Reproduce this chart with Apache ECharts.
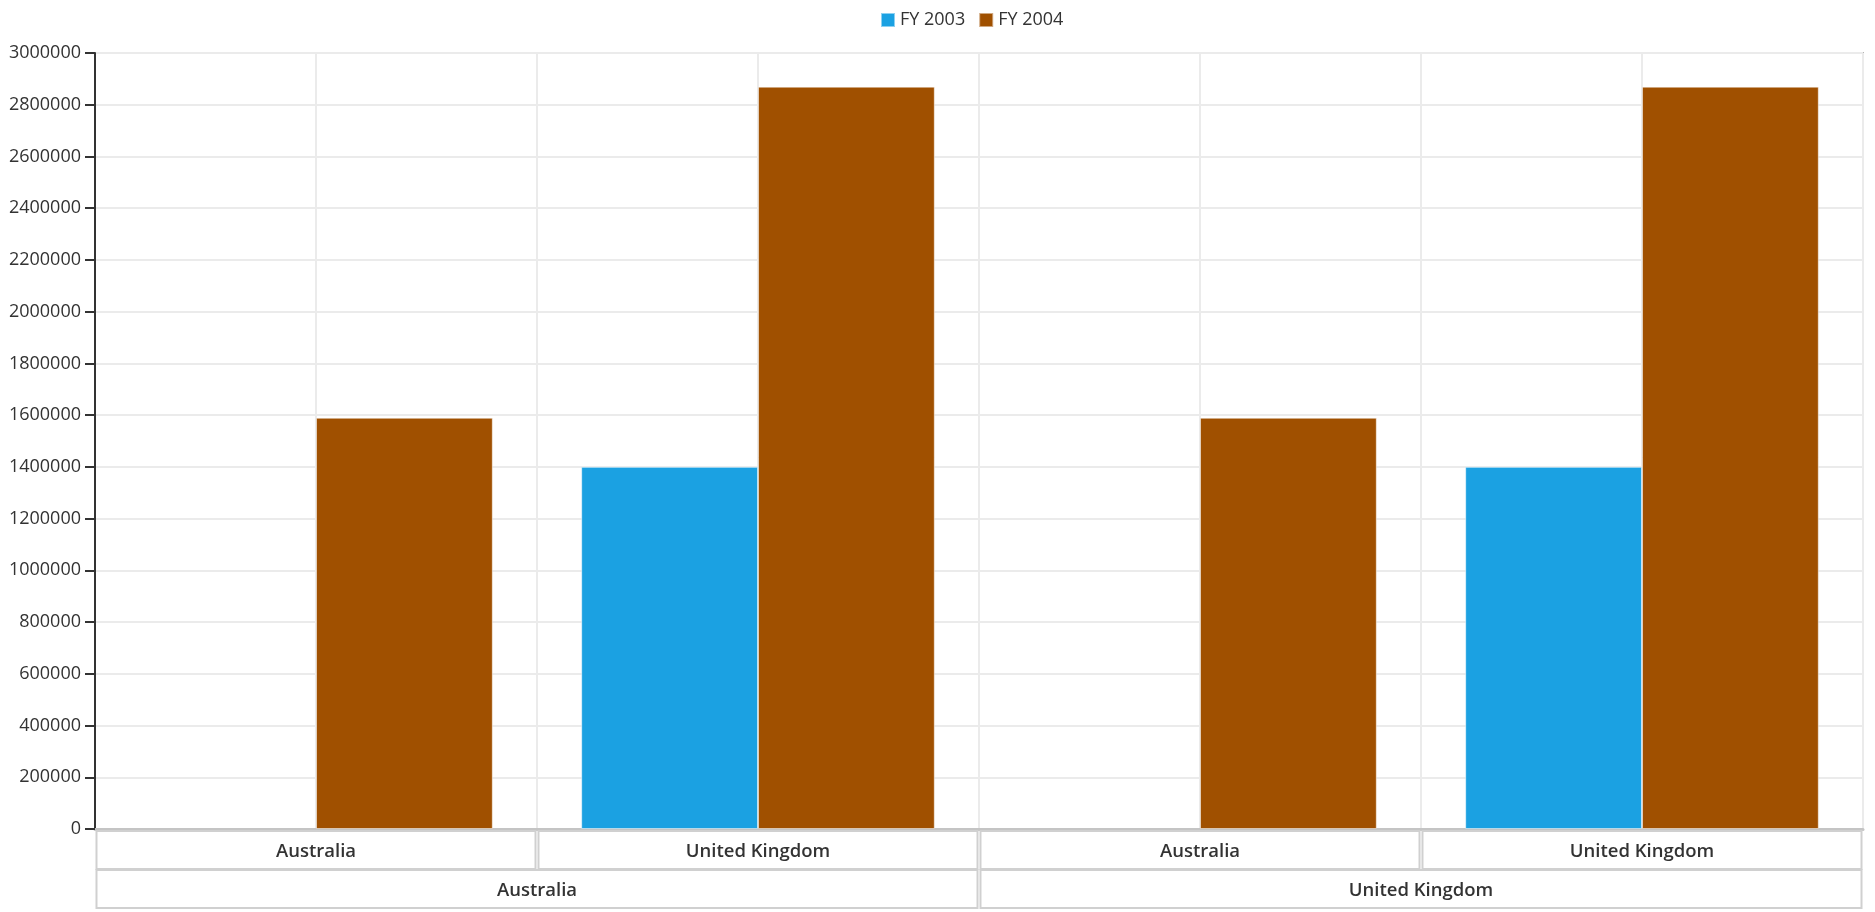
<!DOCTYPE html>
<html>
<head>
<meta charset="utf-8">
<script src="https://cdn.jsdelivr.net/npm/echarts@6/dist/echarts.min.js"></script>
<style>
html,body{margin:0;padding:0;background:#fff;}
#chart{width:1875px;height:912px;}
</style>
</head>
<body>
<div id="chart"></div>
<script>
// ---- data ----
const innerCategories = ['Australia', 'United Kingdom', 'Australia', 'United Kingdom'];
const outerCategories = ['Australia', 'United Kingdom'];
const seriesNames = ['FY 2003', 'FY 2004'];
const fy2003 = [null, 1400000, null, 1400000];
const fy2004 = [1590000, 2870000, 1590000, 2870000];
const yTicks = { min: 0, max: 3000000, interval: 200000 };

// ---- chart ----
const FONT = '"Open Sans", "Noto Sans", sans-serif';
const chart = echarts.init(document.getElementById('chart'));
const halfCats = innerCategories.flatMap(c => [c + ' a', c + ' b']);

chart.setOption({
  animation: false,
  textStyle: { fontFamily: FONT },
  color: ['#1ba1e2', '#a05000'],
  legend: {
    left: 875, top: 5,
    itemWidth: 14, itemHeight: 14, itemGap: 13,
    icon: 'rect',
    textStyle: { fontSize: 18, color: '#333', fontFamily: FONT, lineHeight: 20 },
    data: seriesNames
  },
  grid: {
    left: 95, right: 12, top: 53, bottom: 83,
    show: true, borderColor: '#b4b4b4', borderWidth: 2, backgroundColor: '#fff'
  },
  xAxis: [
    {
      type: 'category', data: innerCategories, position: 'bottom',
      axisLine: { show: true, lineStyle: { color: '#c4c4c4', width: 3 } },
      axisTick: { show: false },
      splitLine: { show: false },
      axisLabel: {
        interval: 0, margin: 3,
        width: 437, height: 32, lineHeight: 32, padding: [4, 0, 0, 0],
        align: 'center', verticalAlign: 'top',
        borderColor: '#d0d0d0', borderWidth: 2, backgroundColor: '#fff',
        fontSize: 18.5, fontWeight: 600, color: '#333', fontFamily: FONT
      }
    },
    {
      type: 'category', data: halfCats, position: 'top',
      axisLine: { show: false }, axisTick: { show: false }, axisLabel: { show: false },
      splitLine: { show: true, lineStyle: { color: '#ebebeb', width: 2 } }
    },
    {
      type: 'category', data: outerCategories, position: 'bottom', offset: 41,
      axisLine: { show: false }, axisTick: { show: false }, splitLine: { show: false },
      axisLabel: {
        interval: 0, margin: 1,
        width: 879, height: 32, lineHeight: 32, padding: [4, 0, 0, 0],
        align: 'center', verticalAlign: 'top',
        borderColor: '#d0d0d0', borderWidth: 2, backgroundColor: '#fff',
        fontSize: 18.5, fontWeight: 600, color: '#333', fontFamily: FONT
      }
    }
  ],
  yAxis: {
    type: 'value', min: yTicks.min, max: yTicks.max, interval: yTicks.interval,
    axisLine: { show: true, lineStyle: { color: '#333', width: 2 } },
    axisTick: { show: true, length: 10, lineStyle: { color: '#333', width: 2 } },
    axisLabel: { fontSize: 18, color: '#333', margin: 14, fontFamily: FONT,
      formatter: v => String(v) },
    splitLine: { show: true, lineStyle: { color: '#ebebeb', width: 2 } }
  },
  series: [
    {
      name: seriesNames[0], type: 'bar', xAxisIndex: 0, data: fy2003,
      barGap: '0%', barCategoryGap: '20%',
      itemStyle: { color: '#1ba1e2', borderColor: 'rgba(255,255,255,0.5)', borderWidth: 1 }
    },
    {
      name: seriesNames[1], type: 'bar', xAxisIndex: 0, data: fy2004,
      barGap: '0%', barCategoryGap: '20%',
      itemStyle: { color: '#a05000', borderColor: 'rgba(255,255,255,0.5)', borderWidth: 1 }
    }
  ]
});
</script>
</body>
</html>
